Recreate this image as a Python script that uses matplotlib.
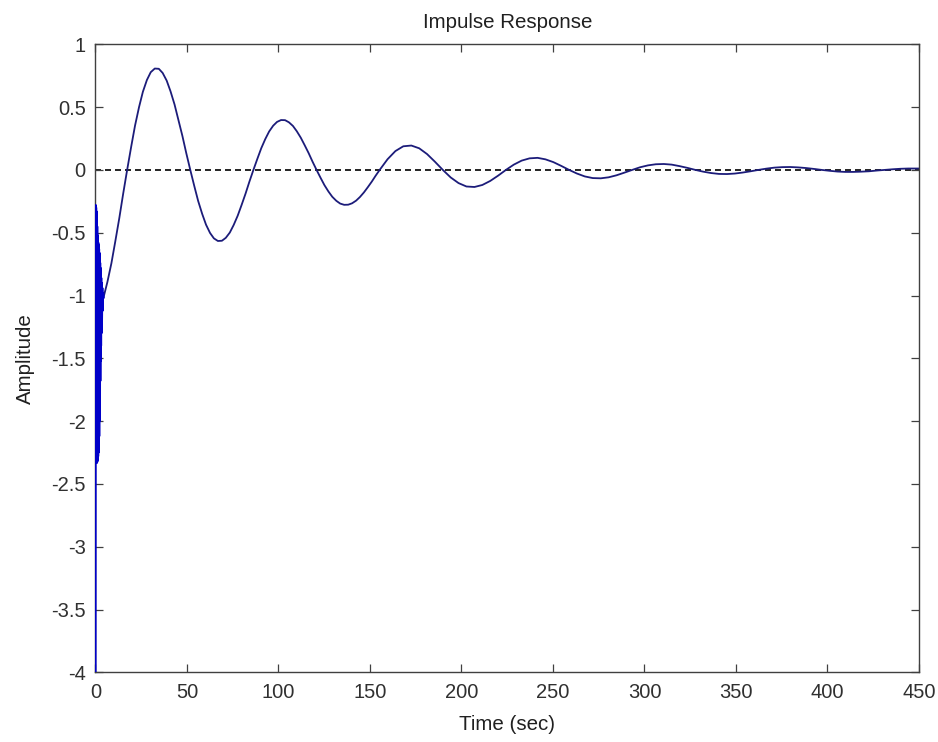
import matplotlib
matplotlib.use("Agg")
import matplotlib.pyplot as plt

plt.rcParams.update({"font.family": ["Liberation Sans", "DejaVu Sans"],
                     "axes.unicode_minus": False})

# fast initial transient (t < 4.4 s)
t_burst = [0.0, 0.1, 0.2, 0.3, 0.4, 0.5, 0.6, 0.7, 0.8, 0.9, 1.0, 1.1, 1.2,
           1.3, 1.4, 1.5, 1.6, 1.7, 1.8, 1.9, 2.0, 2.1, 2.2, 2.3, 2.4, 2.5,
           2.6, 2.7, 2.8, 2.9, 3.0, 3.1, 3.2, 3.3, 3.5, 3.7, 3.9, 4.1, 4.4]
y_burst = [-4.0, -0.28, -2.33, -0.30, -2.33, -0.33, -2.33, -0.38, -2.33, -0.45,
           -2.32, -0.52, -2.30, -0.56, -2.28, -0.58, -2.25, -0.60, -2.20, -0.63,
           -2.12, -0.66, -2.0, -0.70, -1.85, -0.74, -1.68, -0.78, -1.52, -0.82,
           -1.40, -0.86, -1.30, -0.90, -1.20, -0.94, -1.12, -0.98, -1.015]

# slow damped oscillation
t_main = [4.4, 6.5, 8.7, 10.8, 13.0, 15.1, 17.3, 19.5, 21.6, 23.8, 25.9, 28.1,
          30.2, 32.4, 34.6, 36.7, 38.9, 41.0, 43.2, 45.3, 47.5, 49.6, 51.8,
          54.0, 56.1, 58.3, 60.4, 62.6, 64.7, 66.9, 69.1, 71.2, 73.4, 75.5,
          77.7, 79.8, 82.0, 84.1, 86.3, 88.5, 90.6, 92.8, 94.9, 97.1, 99.2,
          101.4, 103.6, 105.7, 107.9, 110.0, 112.2, 114.3, 116.5, 118.6, 120.8,
          123.0, 125.1, 127.3, 129.4, 131.6, 133.7, 135.9, 138.1, 140.2, 142.4,
          144.5, 146.7, 148.8, 151.0, 153.1, 155.3,
          159.6, 163.9, 168.2, 172.6, 176.9, 181.2, 185.5,
          189.8, 194.1, 198.4, 202.7, 207.1, 211.4, 215.7, 220.0, 224.3, 228.6,
          232.9, 237.2, 241.6, 245.9, 250.2, 254.5, 258.8, 263.1, 267.4, 271.7,
          276.1, 280.4, 284.7, 289.0, 293.3, 297.6, 301.9, 306.2, 310.6, 314.9,
          319.2, 323.5, 327.8, 332.1, 336.4, 340.7, 345.1, 349.4, 353.7, 358.0,
          362.3, 366.6, 370.9, 375.2, 379.6, 383.9, 388.2, 392.5, 396.8, 401.1,
          405.4, 409.7, 414.1, 418.4, 422.7, 427.0, 431.3, 435.6, 439.9, 444.2,
          448.6, 450.0]
y_main = [-1.015, -0.893, -0.743, -0.571, -0.385, -0.192, 0.000, 0.184, 0.352,
          0.500, 0.622, 0.716, 0.778, 0.807, 0.805, 0.772, 0.711, 0.626, 0.521,
          0.400, 0.270, 0.134, 0.000, -0.129, -0.247, -0.350, -0.436, -0.502,
          -0.545, -0.566, -0.564, -0.541, -0.499, -0.439, -0.365, -0.281, -0.189,
          -0.094, 0.000, 0.090, 0.173, 0.246, 0.306, 0.352, 0.382, 0.397, 0.396,
          0.379, 0.350, 0.308, 0.256, 0.197, 0.133, 0.066, 0.000, -0.063, -0.121,
          -0.172, -0.214, -0.246, -0.268, -0.278, -0.277, -0.266, -0.245, -0.216,
          -0.179, -0.138, -0.093, -0.046, 0.000,
          0.085, 0.150, 0.188, 0.194, 0.172, 0.126, 0.065, 0.000, -0.060, -0.105,
          -0.132, -0.136, -0.120, -0.088, -0.046, 0.000, 0.042, 0.074, 0.092,
          0.096, 0.084, 0.062, 0.032, 0.000, -0.029, -0.052, -0.065, -0.067,
          -0.059, -0.043, -0.022, 0.000, 0.021, 0.036, 0.045, 0.047, 0.042,
          0.030, 0.016, 0.000, -0.014, -0.025, -0.032, -0.033, -0.029, -0.021,
          -0.011, 0.000, 0.010, 0.018, 0.022, 0.023, 0.020, 0.015, 0.008, 0.000,
          -0.007, -0.013, -0.016, -0.016, -0.014, -0.011, -0.005, 0.000, 0.005,
          0.009, 0.011, 0.011, 0.011]

x_ticks = [0, 50, 100, 150, 200, 250, 300, 350, 400, 450]
y_ticks = [-4, -3.5, -3, -2.5, -2, -1.5, -1, -0.5, 0, 0.5, 1]
y_ticklabels = ["-4", "-3.5", "-3", "-2.5", "-2", "-1.5", "-1", "-0.5", "0", "0.5", "1"]

fig = plt.figure(figsize=(9.38, 7.42), dpi=100, facecolor="white")
ax = fig.add_axes([0.1018, 0.0939, 0.8779, 0.8464])

ax.axhline(0, color="black", lw=1.2, ls=(0, (3.6, 2.4)), zorder=1)
ax.plot(t_main, y_main, color="#1c1c7a", lw=1.3, zorder=2)
ax.plot(t_burst, y_burst, color="#0000c8", lw=1.6, zorder=3)

ax.set_xlim(0, 450)
ax.set_ylim(-4, 1)
ax.set_xticks(x_ticks)
ax.set_yticks(y_ticks)
ax.set_yticklabels(y_ticklabels)
ax.tick_params(direction="in", top=True, right=True, length=5.5, width=0.9,
               color="#404040", labelcolor="#303030", labelsize=14.5)
ax.tick_params(axis="x", pad=8)
ax.tick_params(axis="y", pad=7)
for s in ax.spines.values():
    s.set_color("#404040")
    s.set_linewidth(1.0)

ax.set_title("Impulse Response", fontsize=14.8, color="#202020", pad=12)
ax.set_xlabel("Time (sec)", fontsize=14.8, color="#202020", labelpad=9)
ax.set_ylabel("Amplitude", fontsize=14.8, color="#202020", labelpad=12)

fig.savefig("out.png", dpi=100, facecolor="white")
